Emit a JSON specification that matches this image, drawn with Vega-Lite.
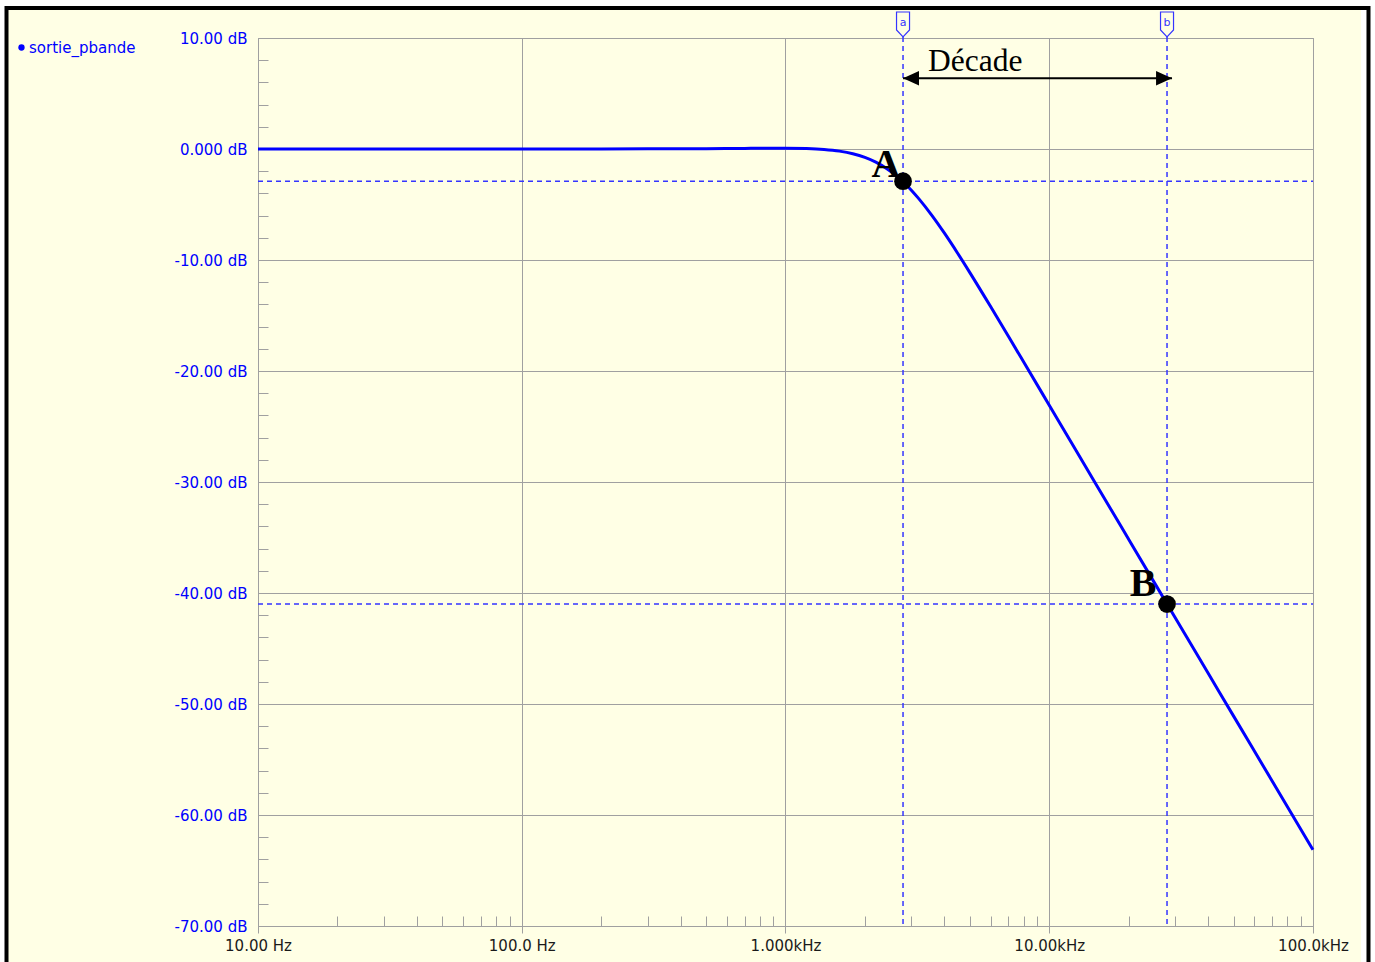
{
  "$schema": "https://vega.github.io/schema/vega-lite/v6.json",
  "width": 1055,
  "height": 888,
  "autosize": {"type": "none"},
  "padding": {"left": 258, "top": 38, "right": 62, "bottom": 36},
  "background": "#FFFFE5",
  "config": {
    "view": {"stroke": "#a0a0a0", "strokeWidth": 1},
    "font": "DejaVu Sans"
  },
  "datasets": {
    "curve": [
      {"f": 10, "dB": 0, "series": "sortie_pbande"},
      {"f": 30, "dB": 0, "series": "sortie_pbande"},
      {"f": 100, "dB": 0.002, "series": "sortie_pbande"},
      {"f": 200, "dB": 0.006, "series": "sortie_pbande"},
      {"f": 300, "dB": 0.013, "series": "sortie_pbande"},
      {"f": 500, "dB": 0.033, "series": "sortie_pbande"},
      {"f": 700, "dB": 0.054, "series": "sortie_pbande"},
      {"f": 850, "dB": 0.064, "series": "sortie_pbande"},
      {"f": 1000, "dB": 0.064, "series": "sortie_pbande"},
      {"f": 1200, "dB": 0.035, "series": "sortie_pbande"},
      {"f": 1400, "dB": -0.043, "series": "sortie_pbande"},
      {"f": 1600, "dB": -0.19, "series": "sortie_pbande"},
      {"f": 1800, "dB": -0.421, "series": "sortie_pbande"},
      {"f": 2000, "dB": -0.75, "series": "sortie_pbande"},
      {"f": 2200, "dB": -1.178, "series": "sortie_pbande"},
      {"f": 2400, "dB": -1.703, "series": "sortie_pbande"},
      {"f": 2600, "dB": -2.311, "series": "sortie_pbande"},
      {"f": 2790, "dB": -2.95, "series": "sortie_pbande"},
      {"f": 3000, "dB": -3.711, "series": "sortie_pbande"},
      {"f": 3200, "dB": -4.468, "series": "sortie_pbande"},
      {"f": 3600, "dB": -6.022, "series": "sortie_pbande"},
      {"f": 4000, "dB": -7.564, "series": "sortie_pbande"},
      {"f": 4500, "dB": -9.409, "series": "sortie_pbande"},
      {"f": 5000, "dB": -11.135, "series": "sortie_pbande"},
      {"f": 6000, "dB": -14.218, "series": "sortie_pbande"},
      {"f": 7000, "dB": -16.875, "series": "sortie_pbande"},
      {"f": 8000, "dB": -19.194, "series": "sortie_pbande"},
      {"f": 10000, "dB": -23.082, "series": "sortie_pbande"},
      {"f": 12000, "dB": -26.261, "series": "sortie_pbande"},
      {"f": 15000, "dB": -30.151, "series": "sortie_pbande"},
      {"f": 20000, "dB": -35.159, "series": "sortie_pbande"},
      {"f": 25000, "dB": -39.042, "series": "sortie_pbande"},
      {"f": 30000, "dB": -42.213, "series": "sortie_pbande"},
      {"f": 40000, "dB": -47.213, "series": "sortie_pbande"},
      {"f": 50000, "dB": -51.092, "series": "sortie_pbande"},
      {"f": 70000, "dB": -56.938, "series": "sortie_pbande"},
      {"f": 100000, "dB": -63.14, "series": "sortie_pbande"}
    ],
    "cursors": [
      {"cursor": "a", "label": "A", "f": 2790, "dB": -2.9},
      {"cursor": "b", "label": "B", "f": 27960, "dB": -41.0}
    ]
  },
  "resolve": {"axis": {"x": "independent", "y": "independent"}},
  "layer": [
    {
      "data": {"name": "cursors"},
      "mark": {"type": "rule", "color": "#3535ff", "strokeWidth": 1.5, "strokeDash": [5, 4]},
      "encoding": {
        "y": {
          "field": "dB", "type": "quantitative",
          "scale": {"domain": [-70, 10], "nice": false, "zero": false},
          "axis": {
            "orient": "left", "title": null, "labels": false, "domain": false, "grid": false,
            "values": [8, 6, 4, 2, -2, -4, -6, -8, -12, -14, -16, -18, -22, -24, -26, -28, -32, -34, -36, -38, -42, -44, -46, -48, -52, -54, -56, -58, -62, -64, -66, -68],
            "tickSize": -10, "tickColor": "#a0a0a0", "tickWidth": 1
          }
        },
        "x": {"datum": 10, "type": "quantitative", "axis": null},
        "x2": {"datum": 100000}
      }
    },
    {
      "data": {"name": "cursors"},
      "mark": {"type": "rule", "color": "#3535ff", "strokeWidth": 1.5, "strokeDash": [5, 4]},
      "encoding": {
        "x": {
          "field": "f", "type": "quantitative",
          "scale": {"type": "log", "domain": [10, 100000], "nice": false},
          "axis": {
            "orient": "bottom", "title": null, "labels": false, "domain": false, "grid": false,
            "values": [20, 30, 40, 50, 60, 70, 80, 90, 200, 300, 400, 500, 600, 700, 800, 900, 2000, 3000, 4000, 5000, 6000, 7000, 8000, 9000, 20000, 30000, 40000, 50000, 60000, 70000, 80000, 90000],
            "tickSize": -10, "tickColor": "#a0a0a0", "tickWidth": 1
          }
        },
        "y": {"datum": 10.1, "type": "quantitative", "axis": null},
        "y2": {"datum": -70}
      }
    },
    {
      "data": {"name": "curve"},
      "mark": {"type": "line", "strokeWidth": 3, "interpolate": "monotone"},
      "encoding": {
        "x": {
          "field": "f", "type": "quantitative",
          "axis": {
            "orient": "bottom", "title": null,
            "values": [10, 100, 1000, 10000, 100000],
            "grid": true, "gridColor": "#a0a0a0", "gridWidth": 1,
            "domainColor": "#a0a0a0", "domainWidth": 1,
            "tickColor": "#a0a0a0", "tickSize": 7, "tickWidth": 1,
            "labelFont": "DejaVu Sans", "labelFontSize": 15, "labelColor": "#1a1a1a",
            "labelPadding": 5, "labelFlush": false, "labelOverlap": false, "labelBound": false,
            "labelExpr": "datum.value == 10 ? '10.00 Hz' : datum.value == 100 ? '100.0 Hz' : datum.value == 1000 ? '1.000kHz' : datum.value == 10000 ? '10.00kHz' : '100.0kHz'"
          }
        },
        "y": {
          "field": "dB", "type": "quantitative",
          "axis": {
            "orient": "left", "title": null,
            "values": [10, 0, -10, -20, -30, -40, -50, -60, -70],
            "grid": true, "gridColor": "#a0a0a0", "gridWidth": 1,
            "domainColor": "#a0a0a0", "domainWidth": 1,
            "ticks": false,
            "labelFont": "DejaVu Sans", "labelFontSize": 15, "labelColor": "#0000ff",
            "labelPadding": 11, "labelFlush": false, "labelOverlap": false, "labelBound": false,
            "labelExpr": "datum.value == 0 ? '0.000 dB' : (datum.value < 0 ? '-' : '') + format(abs(datum.value), '.2f') + ' dB'"
          }
        },
        "color": {
          "field": "series", "type": "nominal",
          "scale": {"domain": ["sortie_pbande"], "range": ["#0000ff"]},
          "legend": {
            "orient": "none", "legendX": -244, "legendY": 2, "title": null, "padding": 0,
            "symbolType": "circle", "symbolSize": 40,
            "symbolFillColor": "#0000ff", "symbolStrokeColor": "#0000ff", "symbolStrokeWidth": 0,
            "labelFont": "DejaVu Sans", "labelFontSize": 15, "labelColor": "#0000ff", "labelOffset": 0,
            "encode": {"symbols": {"update": {"fill": {"value": "#0000ff"}, "strokeWidth": {"value": 0}}}}
          }
        }
      }
    },
    {
      "data": {"name": "cursors"},
      "mark": {"type": "point", "filled": true, "color": "black", "size": 314, "opacity": 1, "shape": "circle"},
      "encoding": {
        "x": {"field": "f", "type": "quantitative", "axis": null},
        "y": {"field": "dB", "type": "quantitative", "axis": null}
      }
    },
    {
      "data": {"name": "cursors"},
      "transform": [{"filter": "datum.label == 'A'"}],
      "mark": {"type": "text", "font": "Liberation Serif", "fontWeight": "bold", "fontSize": 40, "color": "black", "align": "center", "baseline": "alphabetic", "dx": -17, "dy": -4},
      "encoding": {
        "x": {"field": "f", "type": "quantitative", "axis": null},
        "y": {"field": "dB", "type": "quantitative", "axis": null},
        "text": {"field": "label"}
      }
    },
    {
      "data": {"name": "cursors"},
      "transform": [{"filter": "datum.label == 'B'"}],
      "mark": {"type": "text", "font": "Liberation Serif", "fontWeight": "bold", "fontSize": 40, "color": "black", "align": "center", "baseline": "alphabetic", "dx": -24, "dy": -8},
      "encoding": {
        "x": {"field": "f", "type": "quantitative", "axis": null},
        "y": {"field": "dB", "type": "quantitative", "axis": null},
        "text": {"field": "label"}
      }
    },
    {
      "data": {"name": "cursors"},
      "mark": {"type": "point", "filled": true, "fill": "#FFFFE5", "stroke": "#3535ff", "strokeWidth": 1.2, "opacity": 1, "size": 169, "shape": "M-1,-1.92L1,-1.92L1,0.85L0,1.92L-1,0.85Z"},
      "encoding": {
        "x": {"field": "f", "type": "quantitative", "axis": null},
        "y": {"datum": 11.216, "type": "quantitative", "axis": null}
      }
    },
    {
      "data": {"name": "cursors"},
      "mark": {"type": "text", "font": "DejaVu Sans", "fontSize": 11, "color": "#3535ff", "align": "center", "baseline": "middle"},
      "encoding": {
        "x": {"field": "f", "type": "quantitative", "axis": null},
        "y": {"datum": 11.35, "type": "quantitative", "axis": null},
        "text": {"field": "cursor"}
      }
    },
    {
      "data": {"values": [{"label": "Décade"}]},
      "mark": {"type": "text", "font": "Liberation Serif", "fontSize": 31.5, "color": "black", "align": "left", "baseline": "alphabetic"},
      "encoding": {
        "x": {"datum": 3470, "type": "quantitative", "axis": null},
        "y": {"datum": 7.07, "type": "quantitative", "axis": null},
        "text": {"field": "label"}
      }
    },
    {
      "data": {"values": [{}]},
      "mark": {"type": "rule", "color": "black", "strokeWidth": 2},
      "encoding": {
        "x": {"datum": 2790, "type": "quantitative", "axis": null},
        "x2": {"datum": 29210},
        "y": {"datum": 6.37, "type": "quantitative", "axis": null}
      }
    },
    {
      "data": {"values": [{}]},
      "mark": {"type": "point", "filled": true, "color": "black", "opacity": 1, "size": 256, "shape": "M0,0L2,-0.9L2,0.9Z"},
      "encoding": {
        "x": {"datum": 2790, "type": "quantitative", "axis": null},
        "y": {"datum": 6.37, "type": "quantitative", "axis": null}
      }
    },
    {
      "data": {"values": [{}]},
      "mark": {"type": "point", "filled": true, "color": "black", "opacity": 1, "size": 256, "shape": "M0,0L-2,-0.9L-2,0.9Z"},
      "encoding": {
        "x": {"datum": 29210, "type": "quantitative", "axis": null},
        "y": {"datum": 6.37, "type": "quantitative", "axis": null}
      }
    },
    {
      "data": {"values": [{}]},
      "mark": {"type": "rect", "fillOpacity": 0, "stroke": "white", "strokeWidth": 14},
      "encoding": {
        "x": {"datum": 1.0515, "type": "quantitative", "axis": null},
        "x2": {"datum": 161620},
        "y": {"datum": 13.423, "type": "quantitative", "axis": null},
        "y2": {"datum": -75.77}
      }
    },
    {
      "data": {"values": [{}]},
      "mark": {"type": "rect", "fillOpacity": 0, "stroke": "black", "strokeWidth": 4},
      "encoding": {
        "x": {"datum": 1.1129, "type": "quantitative", "axis": null},
        "x2": {"datum": 162330},
        "y": {"datum": 12.703, "type": "quantitative", "axis": null},
        "y2": {"datum": -75.77}
      }
    }
  ]
}
